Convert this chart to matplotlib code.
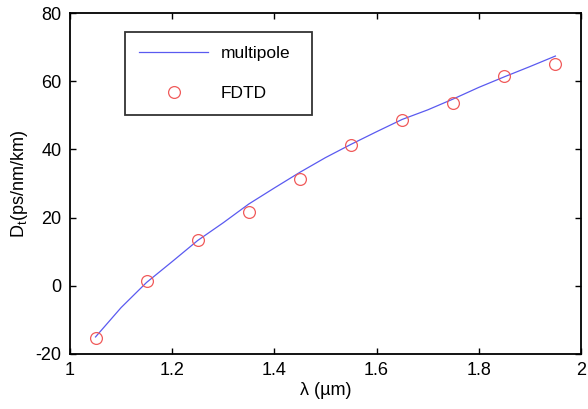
import numpy as np
import matplotlib
matplotlib.use("Agg")
import matplotlib.pyplot as plt

plt.rcParams['font.family'] = ['Liberation Sans', 'DejaVu Sans']
plt.rcParams['mathtext.fontset'] = 'custom'
plt.rcParams['mathtext.rm'] = 'Liberation Sans'
plt.rcParams['mathtext.it'] = 'Liberation Sans:italic'
plt.rcParams['axes.unicode_minus'] = False

# multipole curve
wl_line = [1.05, 1.10, 1.15, 1.20, 1.25, 1.30, 1.35, 1.40, 1.45, 1.50,
           1.55, 1.60, 1.65, 1.70, 1.75, 1.80, 1.85, 1.90, 1.95]
d_line = [-15.0, -6.4, 1.0, 7.1, 13.3, 18.5, 24.0, 28.7, 33.3, 37.6,
          41.5, 45.2, 48.8, 51.6, 54.8, 58.2, 61.3, 64.3, 67.4]

# FDTD points
wl_fdtd = [1.05, 1.15, 1.25, 1.35, 1.45, 1.55, 1.65, 1.75, 1.85, 1.95]
d_fdtd = [-15.4, 1.5, 13.4, 21.7, 31.2, 41.3, 48.5, 53.7, 61.5, 65.2]

x_ticks = [1, 1.2, 1.4, 1.6, 1.8, 2]
y_ticks = [-20, 0, 20, 40, 60, 80]

fig = plt.figure(figsize=(5.88, 4.09), dpi=100)
ax = fig.add_axes([0.119, 0.1345, 0.869, 0.8335])

ax.plot(wl_line, d_line, color='#5a5af0', lw=0.9, label='multipole')
ax.plot(wl_fdtd, d_fdtd, 'o', mfc='none', mec='#f05a5a', mew=0.9, ms=8.5,
        label='FDTD')

ax.set_xlim(1, 2)
ax.set_ylim(-20, 80)
ax.set_xticks(x_ticks)
ax.set_xticklabels(['1', '1.2', '1.4', '1.6', '1.8', '2'])
ax.set_yticks(y_ticks)
ax.tick_params(direction='in', length=4, width=1, top=True, right=True,
               labelsize=13, pad=6, colors='black')
for s in ax.spines.values():
    s.set_linewidth(1.3)

ax.set_xlabel('λ (µm)', fontsize=13, labelpad=2)
ax.set_ylabel(r'D$_\mathregular{t}$(ps/nm/km)', fontsize=13, labelpad=4)

leg = ax.legend(loc='upper left', bbox_to_anchor=(0.108, 0.704, 0.366, 0.24),
                mode='expand', fontsize=12.5, frameon=True, fancybox=False,
                edgecolor='black', handlelength=4.0, handletextpad=0.7,
                labelspacing=1.4, borderpad=0.8, borderaxespad=0)
leg.get_frame().set_linewidth(1.3)

fig.savefig('out.png', dpi=100)
